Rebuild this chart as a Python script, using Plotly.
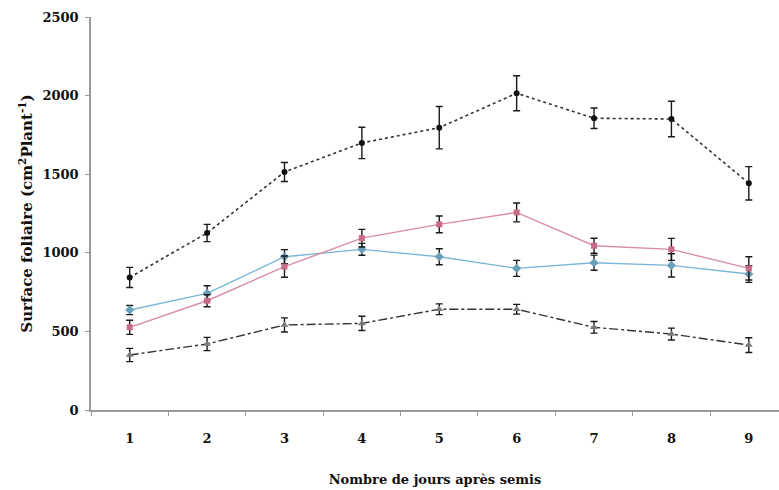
import plotly.graph_objects as go

days = ["1", "2", "3", "4", "5", "6", "7", "8", "9"]

top_vals = [843, 1126, 1514, 1699, 1796, 2015, 1856, 1851, 1442]
top_err = [64, 55, 60, 100, 135, 111, 65, 113, 106]

pink_vals = [526, 695, 912, 1093, 1181, 1257, 1045, 1022, 901]
pink_err = [45, 38, 68, 56, 53, 60, 48, 70, 74]

blue_vals = [636, 742, 975, 1022, 975, 901, 937, 920, 865]
blue_err = [29, 48, 45, 38, 51, 51, 48, 74, 53]

gray_vals = [350, 420, 541, 551, 641, 641, 526, 483, 413]
gray_err = [42, 42, 45, 45, 34, 31, 37, 38, 47]

y_ticks = [0, 500, 1000, 1500, 2000, 2500]

FONT = "DejaVu Serif"

def err(arr):
    return dict(type="data", array=arr, visible=True, color="#1a1a1a",
                thickness=1.4, width=3.5)

fig = go.Figure()
fig.add_trace(go.Scatter(x=days, y=gray_vals, error_y=err(gray_err), mode="lines+markers",
                         line=dict(color="#333333", width=1.4, dash="dashdot"),
                         marker=dict(symbol="triangle-up", size=7, color="#7a7a7a")))
fig.add_trace(go.Scatter(x=days, y=blue_vals, error_y=err(blue_err), mode="lines+markers",
                         line=dict(color="#7cb6d6", width=1.4),
                         marker=dict(symbol="diamond", size=7, color="#6a9fb8")))
fig.add_trace(go.Scatter(x=days, y=pink_vals, error_y=err(pink_err), mode="lines+markers",
                         line=dict(color="#d68ea3", width=1.4),
                         marker=dict(symbol="square", size=6, color="#c96a86")))
fig.add_trace(go.Scatter(x=days, y=top_vals, error_y=err(top_err), mode="lines+markers",
                         line=dict(color="#333333", width=1.6, dash="dot"),
                         marker=dict(symbol="circle", size=6, color="#111111")))

fig.update_layout(
    width=779, height=490,
    margin=dict(l=91, r=0, t=17, b=80),
    paper_bgcolor="white", plot_bgcolor="white",
    showlegend=False,
    font=dict(family=FONT, color="#111111"),
)
fig.update_xaxes(
    type="category", range=[-0.5, 8.39],
    showline=True, linecolor="#9a9a9a", linewidth=1.5,
    ticks="outside", tickson="boundaries", ticklen=4, tickcolor="#9a9a9a",
    showgrid=False, zeroline=False,
    tickfont=dict(family=FONT, size=13, weight="bold"),
    ticklabelstandoff=16,
    title=dict(text="Nombre de jours après semis", font=dict(family=FONT, size=13, weight="bold"),
               standoff=30),
)
fig.update_yaxes(
    range=[0, 2500], tickvals=y_ticks,
    showline=True, linecolor="#9a9a9a", linewidth=1.5,
    ticks="outside", ticklen=4, tickcolor="#9a9a9a",
    showgrid=False, zeroline=False,
    tickfont=dict(family=FONT, size=13, weight="bold"),
    ticklabelstandoff=4,
    title=dict(text="Surface foliaire (cm<sup>2</sup>Plant<sup>-1</sup>)",
               font=dict(family=FONT, size=15, weight="bold"), standoff=6),
)

fig.write_html("out.html")
